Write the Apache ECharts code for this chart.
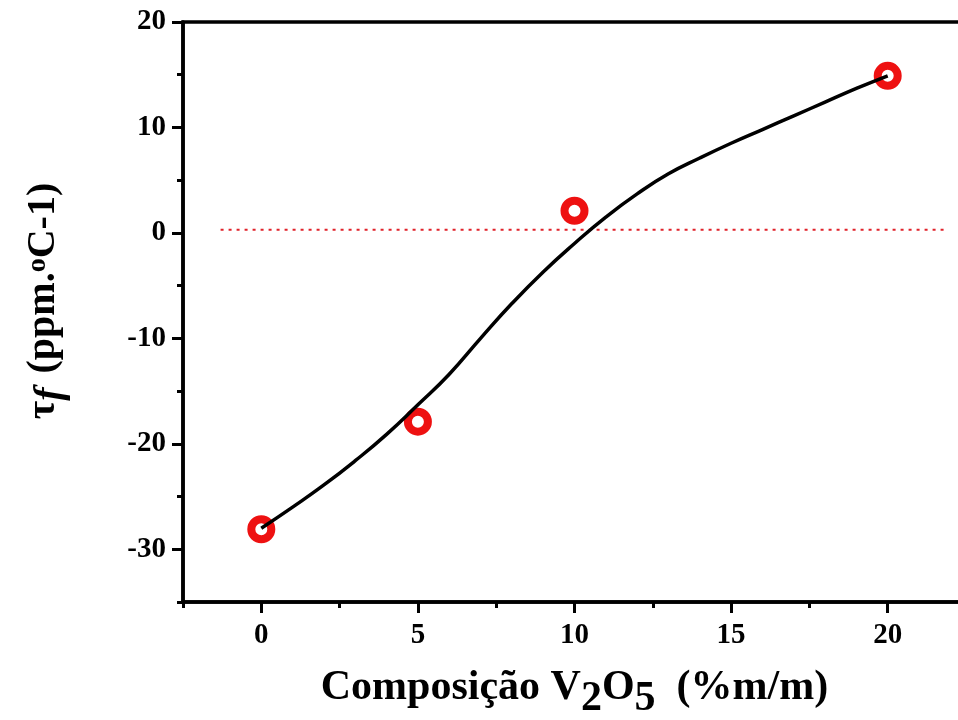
<!DOCTYPE html>
<html>
<head>
<meta charset="utf-8">
<script src="https://cdn.jsdelivr.net/npm/echarts@6/dist/echarts.min.js"></script>
<style>
  html, body { margin: 0; padding: 0; background: #fff; }
  #chart { width: 958px; height: 720px; }
</style>
</head>
<body>
<div id="chart"></div>
<script>
// measured points (red rings)
const pointX = [0, 5, 10, 20]
const pointY = [-28.1, -17.9, 2.1, 14.9]
// fitted curve
const curveX = [0, 1, 2, 3, 4, 5, 6, 7, 8, 9, 10, 11, 12, 13, 14, 15, 16, 17, 18, 19, 20]
const curveY = [-28.0, -26.0, -23.9, -21.6, -19.1, -16.3, -13.4, -10.0, -6.7, -3.7, -1.0, 1.5, 3.7, 5.6, 7.1, 8.5, 9.8, 11.1, 12.4, 13.7, 14.9]
// dotted reference line
const refX = [-1.3, 21.8]
const refY = [0.3, 0.3]
// ticks
const xMajor = [0, 5, 10, 15, 20]
const xMinor = [-2.5, 2.5, 7.5, 12.5, 17.5]
const yMajor = [-30, -20, -10, 0, 10, 20]
const yMinor = [-35, -25, -15, -5, 5, 15]

const font = 'Liberation Serif'
const chart = echarts.init(document.getElementById('chart'))

const zip = (xs, ys) => xs.map((x, i) => [x, ys[i]])

const option = {
  animation: false,
  backgroundColor: '#fff',
  grid: {
    left: 183,
    top: 22,
    bottom: 118,
    right: -8,
    containLabel: false,
    outerBoundsMode: 'none',
    show: true,
    borderColor: '#000',
    borderWidth: 3.5
  },
  xAxis: [
    {
      type: 'value',
      min: -2.5,
      max: 22.5,
      position: 'bottom',
      axisLine: { show: true, onZero: false, lineStyle: { color: '#000', width: 3.5 } },
      axisTick: { show: true, customValues: xMajor, length: 11, lineStyle: { color: '#000', width: 3 } },
      axisLabel: {
        customValues: xMajor,
        margin: 19,
        color: '#000',
        fontFamily: font,
        fontWeight: 'bold',
        fontSize: 29
      },
      splitLine: { show: false },
      name: '{n|Composição V}{s|2}{n|O}{s|5}{n|  (%m/m)}',
      nameLocation: 'middle',
      nameGap: 65,
      nameTextStyle: {
        rich: {
          n: { fontFamily: font, fontWeight: 'bold', fontSize: 42, color: '#000', verticalAlign: 'top', lineHeight: 48 },
          s: { fontFamily: font, fontWeight: 'bold', fontSize: 42, color: '#000', padding: [11, 0, 0, 0], verticalAlign: 'top', lineHeight: 48 }
        }
      }
    },
    {
      type: 'value',
      min: -2.5,
      max: 22.5,
      position: 'bottom',
      axisLine: { show: false, onZero: false },
      axisTick: { show: true, customValues: xMinor, length: 6, lineStyle: { color: '#000', width: 3 } },
      axisLabel: { show: false },
      splitLine: { show: false }
    }
  ],
  yAxis: [
    {
      type: 'value',
      min: -35,
      max: 20,
      position: 'left',
      axisLine: { show: true, onZero: false, lineStyle: { color: '#000', width: 3.5 } },
      axisTick: { show: true, customValues: yMajor, length: 11, lineStyle: { color: '#000', width: 3 } },
      axisLabel: {
        customValues: yMajor,
        margin: 17,
        color: '#000',
        fontFamily: font,
        fontWeight: 'bold',
        fontSize: 29
      },
      splitLine: { show: false },
      name: '{n|τ}{i|f}{n| (ppm.}{d|o}{n|C-1)}',
      nameLocation: 'middle',
      nameRotate: 90,
      nameGap: 116,
      nameTextStyle: {
        padding: [0, 0, 0, 22],
        rich: {
          n: { fontFamily: font, fontWeight: 'bold', fontSize: 40, color: '#000', lineHeight: 46 },
          i: { fontFamily: font, fontWeight: 'bold', fontStyle: 'italic', fontSize: 40, color: '#000', padding: [14, 4, 0, 0], lineHeight: 46 },
          d: { fontFamily: font, fontWeight: 'bold', fontSize: 28, color: '#000', padding: [0, 0, 12, 0], lineHeight: 46 }
        }
      }
    },
    {
      type: 'value',
      min: -35,
      max: 20,
      position: 'left',
      axisLine: { show: false, onZero: false },
      axisTick: { show: true, customValues: yMinor, length: 6, lineStyle: { color: '#000', width: 3 } },
      axisLabel: { show: false },
      splitLine: { show: false }
    }
  ],
  series: [
    {
      type: 'line',
      data: zip(refX, refY),
      showSymbol: false,
      symbol: 'none',
      lineStyle: { color: '#e0222a', width: 2, type: [3, 5] },
      z: 1
    },
    {
      type: 'scatter',
      data: zip(pointX, pointY),
      symbol: 'circle',
      symbolSize: 20,
      itemStyle: { color: '#fff', borderColor: '#ee1111', borderWidth: 8, opacity: 1 },
      z: 2
    },
    {
      type: 'line',
      data: zip(curveX, curveY),
      smooth: 0.5,
      showSymbol: false,
      symbol: 'none',
      lineStyle: { color: '#000', width: 3.5 },
      z: 3
    }
  ]
}

chart.setOption(option)
</script>
</body>
</html>
